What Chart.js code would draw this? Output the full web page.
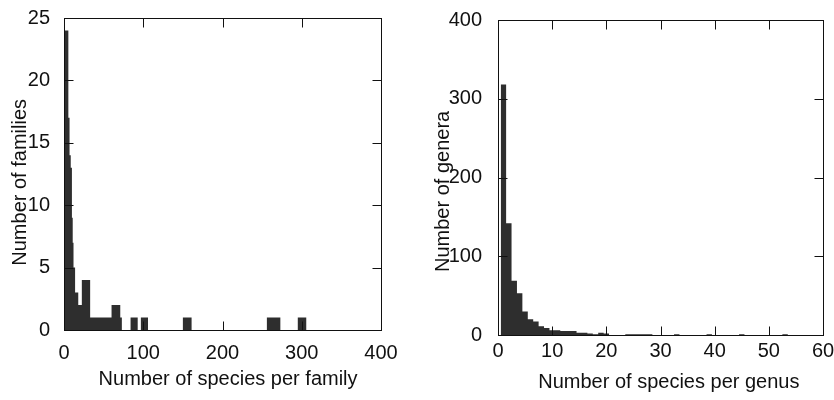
<!DOCTYPE html>
<html>
<head>
<meta charset="utf-8">
<script src="https://cdn.jsdelivr.net/npm/chart.js@4.4.0/dist/chart.umd.min.js"></script>
<style>
  body { margin: 0; background: #fff; }
  canvas { position: absolute; top: 0; }
</style>
</head>
<body>
<canvas id="famChart" width="420" height="400" style="left:0"></canvas>
<canvas id="genChart" width="414" height="400" style="left:420px"></canvas>
<script>
// Left panel: families, histogram bins (left edges) and counts
var familyBinEdges = [0, 5.5, 7, 8.5, 10, 11, 12, 14, 18, 22.5, 33, 60, 71, 73, 84, 93, 97, 106, 150, 161, 256, 273, 295, 306];
var familyCounts   = [24, 17, 14, 13, 9, 7, 5, 3, 2, 4, 1, 2, 1, 0, 1, 0, 1, 0, 1, 0, 1, 0, 1];
var familyXTicks = [0, 100, 200, 300, 400];
var familyYTicks = [0, 5, 10, 15, 20, 25];

// Right panel: genera, one bin per species count (centred on the integer)
var genusSizes  = [1, 2, 3, 4, 5, 6, 7, 8, 9, 10, 11, 12, 13, 14, 15, 16, 17, 18, 19, 20,
                   21, 22, 23, 24, 25, 26, 27, 28, 29, 30, 31, 32, 33, 34, 35, 36, 37, 38, 39, 40,
                   41, 42, 43, 44, 45, 46, 47, 48, 49, 50, 51, 52, 53, 54, 55];
var genusCounts = [318, 142, 69, 53, 30, 20, 17, 11, 9, 6, 6, 5, 5, 5, 3, 3, 2, 1, 3, 2,
                   0, 0, 0, 1, 1, 1, 1, 1, 0, 0, 0, 0, 1, 0, 0, 0, 0, 0, 1, 0,
                   0, 0, 0, 0, 1, 0, 0, 0, 0, 0, 0, 0, 1, 0, 0];
var genusXTicks = [0, 10, 20, 30, 40, 50, 60];
var genusYTicks = [0, 100, 200, 300, 400];

var ink = '#111';
var barFill = '#2e2e2e';
var font = { family: "'Liberation Sans', Arial, sans-serif", size: 20 };

// stepped outline points: value of bin i holds until the next edge
function stepPoints(edges, counts) {
    var pts = [];
    for (var i = 0; i < counts.length; i++) pts.push({ x: edges[i], y: counts[i] });
    pts.push({ x: edges[edges.length - 1], y: 0 });
    return pts;
}

// MATLAB-like box with inward ticks on all four sides
function boxTicks(xTicks, yTicks) {
    return {
        id: 'boxTicks',
        afterDraw: function (chart) {
            var ctx = chart.ctx, a = chart.chartArea, x = chart.scales.x, y = chart.scales.y;
            var len = 9;
            var l = Math.round(a.left) + 0.5, r = Math.round(a.right) + 0.5;
            var t = Math.round(a.top) + 0.5, b = Math.round(a.bottom) + 0.5;
            ctx.save();
            ctx.lineWidth = 1;
            ctx.strokeStyle = ink;
            ctx.beginPath();
            xTicks.forEach(function (v) {
                var px = Math.round(x.getPixelForValue(v)) + 0.5;
                ctx.moveTo(px, b); ctx.lineTo(px, b - len);
                ctx.moveTo(px, t); ctx.lineTo(px, t + len);
            });
            yTicks.forEach(function (v) {
                var py = Math.round(y.getPixelForValue(v)) + 0.5;
                ctx.moveTo(l, py); ctx.lineTo(l + len, py);
                ctx.moveTo(r, py); ctx.lineTo(r - len, py);
            });
            ctx.stroke();
            ctx.strokeRect(l, t, r - l, b - t);
            ctx.restore();
        }
    };
}

function makeHist(id, points, cfg) {
    return new Chart(document.getElementById(id), {
        type: 'line',
        data: {
            datasets: [{
                data: points,
                stepped: true,
                fill: 'origin',
                backgroundColor: barFill,
                borderColor: 'transparent',
                borderWidth: 0,
                pointRadius: 0
            }]
        },
        options: {
            responsive: false,
            animation: false,
            layout: { padding: cfg.padding },
            plugins: { legend: { display: false }, tooltip: { enabled: false } },
            scales: {
                x: {
                    type: 'linear',
                    min: cfg.xTicks[0],
                    max: cfg.xTicks[cfg.xTicks.length - 1],
                    afterBuildTicks: function (s) { s.ticks = cfg.xTicks.map(function (v) { return { value: v }; }); },
                    afterFit: function (s) { s.height = cfg.xHeight; },
                    grid: { display: false },
                    border: { display: false },
                    ticks: { color: ink, font: font, padding: cfg.xTickPad, maxRotation: 0, autoSkip: false },
                    title: { display: true, text: cfg.xTitle, color: ink, font: font, padding: { top: 0, bottom: cfg.xTitlePad } }
                },
                y: {
                    type: 'linear',
                    min: cfg.yTicks[0],
                    max: cfg.yTicks[cfg.yTicks.length - 1],
                    afterBuildTicks: function (s) { s.ticks = cfg.yTicks.map(function (v) { return { value: v }; }); },
                    afterFit: function (s) { s.width = cfg.yWidth; },
                    grid: { display: false },
                    border: { display: false },
                    ticks: { color: ink, font: font, padding: cfg.yTickPad, autoSkip: false },
                    title: { display: true, text: cfg.yTitle, color: ink, font: font, padding: { top: cfg.yTitlePad, bottom: 0 } }
                }
            }
        },
        plugins: [boxTicks(cfg.xTicks, cfg.yTicks)]
    });
}

makeHist('famChart', stepPoints(familyBinEdges, familyCounts), {
    xTicks: familyXTicks, yTicks: familyYTicks,
    xTitle: '  Number of species per family', yTitle: 'Number of families   ',
    padding: { top: 15, right: 39, bottom: 0, left: 0 },
    xHeight: 70, yWidth: 64,
    xTickPad: 3, yTickPad: 6, xTitlePad: 9, yTitlePad: 8
});

var genusEdges = genusSizes.map(function (v) { return v - 0.5; });
genusEdges.push(genusSizes[genusSizes.length - 1] + 0.5);
makeHist('genChart', stepPoints(genusEdges, genusCounts), {
    xTicks: genusXTicks, yTicks: genusYTicks,
    xTitle: '   Number of species per genus', yTitle: 'Number of genera     ',
    padding: { top: 15, right: 11, bottom: 0, left: 0 },
    xHeight: 65, yWidth: 78,
    xTickPad: -4, yTickPad: 8, xTitlePad: 6, yTitlePad: 11
});
</script>
</body>
</html>
